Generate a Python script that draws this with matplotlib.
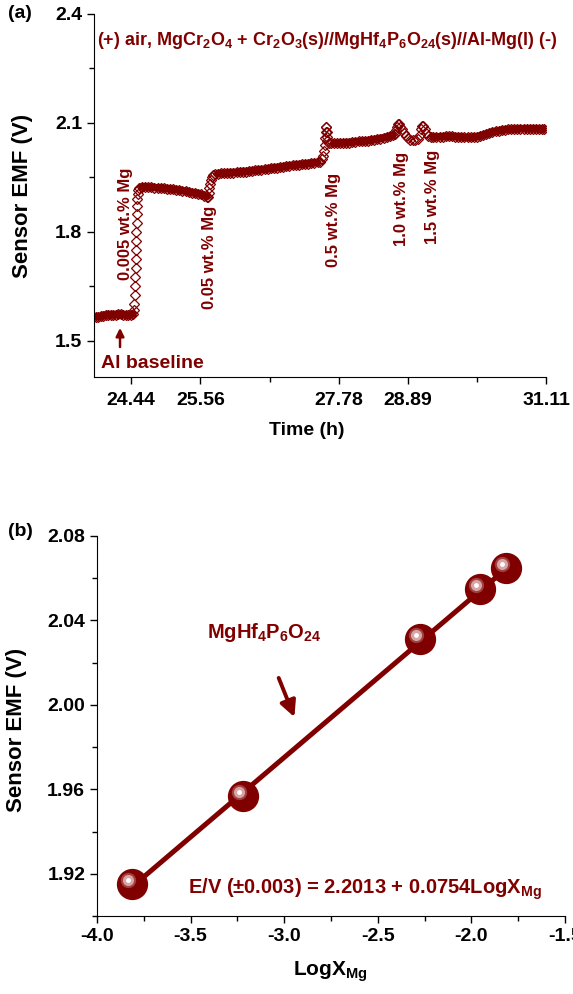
import numpy as np
import matplotlib
matplotlib.use("Agg")
import matplotlib.pyplot as plt
from matplotlib.ticker import FixedLocator, MultipleLocator, FormatStrFormatter
from matplotlib.transforms import offset_copy

plt.rcParams['font.family'] = ['Liberation Sans', 'DejaVu Sans']
plt.rcParams['font.weight'] = 'bold'
plt.rcParams['axes.labelweight'] = 'bold'
plt.rcParams['axes.unicode_minus'] = False
plt.rcParams['mathtext.fontset'] = 'custom'
plt.rcParams['mathtext.rm'] = 'Liberation Sans:bold'
plt.rcParams['mathtext.it'] = 'Liberation Sans:bold'
plt.rcParams['mathtext.bf'] = 'Liberation Sans:bold'
plt.rcParams['mathtext.default'] = 'rm'

RED = '#800000'

# (a) sensor EMF vs time, one segment per Mg addition
t_base = [23.88, 23.92, 23.96, 24.00, 24.04, 24.08, 24.12, 24.16, 24.20, 24.24,
          24.28, 24.32, 24.36, 24.40, 24.44, 24.47]
e_base = [1.566, 1.566, 1.567, 1.569, 1.571, 1.572, 1.572, 1.571, 1.572, 1.573,
          1.573, 1.572, 1.571, 1.570, 1.571, 1.574]

t_step1 = [24.49, 24.50, 24.505, 24.51, 24.515, 24.52, 24.523, 24.526, 24.529,
           24.532, 24.535, 24.538, 24.542, 24.546, 24.552, 24.56, 24.58]
e_step1 = [1.585, 1.60, 1.625, 1.65, 1.675, 1.70, 1.725, 1.75, 1.775,
           1.80, 1.825, 1.85, 1.87, 1.89, 1.905, 1.915, 1.921]

t_flat1 = [24.62, 24.67, 24.72, 24.77, 24.82, 24.87, 24.92, 24.97, 25.02, 25.07,
           25.12, 25.17, 25.22, 25.27, 25.32, 25.37, 25.42, 25.47, 25.52, 25.57,
           25.62, 25.66]
e_flat1 = [1.924, 1.924, 1.923, 1.923, 1.922, 1.921, 1.921, 1.920, 1.919, 1.918,
           1.917, 1.916, 1.915, 1.913, 1.912, 1.910, 1.908, 1.907, 1.905, 1.903,
           1.900, 1.897]

t_step2 = [25.68, 25.695, 25.705, 25.715, 25.725, 25.74, 25.76, 25.79]
e_step2 = [1.897, 1.908, 1.920, 1.932, 1.943, 1.952, 1.957, 1.960]

t_flat2 = [25.84, 25.89, 25.94, 25.99, 26.04, 26.09, 26.14, 26.19, 26.24, 26.29,
           26.34, 26.39, 26.44, 26.49, 26.54, 26.59, 26.64, 26.69, 26.74, 26.79,
           26.84, 26.89, 26.94, 26.99, 27.04, 27.09, 27.14, 27.19, 27.24, 27.29,
           27.34, 27.39, 27.44]
e_flat2 = [1.960, 1.961, 1.961, 1.962, 1.963, 1.963, 1.964, 1.965, 1.966, 1.966,
           1.967, 1.968, 1.969, 1.970, 1.971, 1.972, 1.973, 1.975, 1.976, 1.977,
           1.978, 1.979, 1.981, 1.982, 1.983, 1.984, 1.985, 1.986, 1.987, 1.988,
           1.989, 1.990, 1.991]

t_step3 = [27.48, 27.51, 27.535, 27.55, 27.56, 27.565, 27.57, 27.575, 27.58,
           27.585, 27.59, 27.60, 27.62, 27.65]
e_step3 = [1.993, 2.000, 2.010, 2.022, 2.040, 2.058, 2.075, 2.090, 2.088,
           2.075, 2.062, 2.050, 2.045, 2.044]

t_flat3 = [27.70, 27.75, 27.80, 27.85, 27.90, 27.95, 28.00, 28.05, 28.10, 28.15,
           28.20, 28.25, 28.30, 28.35, 28.40, 28.45, 28.50, 28.55, 28.60, 28.65]
e_flat3 = [2.044, 2.044, 2.045, 2.045, 2.046, 2.046, 2.047, 2.048, 2.049, 2.049,
           2.050, 2.051, 2.053, 2.054, 2.055, 2.057, 2.059, 2.061, 2.063, 2.066]

t_step45 = [28.68, 28.70, 28.72, 28.735, 28.75, 28.77, 28.80, 28.83, 28.86, 28.89,
            28.93, 28.97, 29.01, 29.05, 29.08, 29.10, 29.12, 29.14, 29.16, 29.19,
            29.22, 29.26]
e_step45 = [2.070, 2.080, 2.090, 2.097, 2.096, 2.090, 2.082, 2.073, 2.065, 2.058,
            2.053, 2.052, 2.052, 2.055, 2.068, 2.082, 2.092, 2.091, 2.082, 2.072,
            2.065, 2.061]

t_flat4 = [29.30, 29.35, 29.40, 29.45, 29.50, 29.55, 29.60, 29.65, 29.70, 29.75,
           29.80, 29.85, 29.90, 29.95, 30.00, 30.05, 30.10, 30.15, 30.20, 30.25,
           30.30, 30.35, 30.40, 30.45, 30.50, 30.55, 30.60, 30.65, 30.70, 30.75,
           30.80, 30.85, 30.90, 30.95, 31.00, 31.05, 31.08]
e_flat4 = [2.061, 2.061, 2.062, 2.062, 2.063, 2.063, 2.063, 2.062, 2.062, 2.061,
           2.060, 2.060, 2.060, 2.061, 2.062, 2.064, 2.066, 2.069, 2.072, 2.075,
           2.077, 2.078, 2.080, 2.081, 2.082, 2.082, 2.083, 2.083, 2.084, 2.084,
           2.084, 2.084, 2.084, 2.084, 2.083, 2.083, 2.083]

flat_runs = [(t_base, e_base), (t_flat1, e_flat1), (t_flat2, e_flat2),
             (t_flat3, e_flat3), (t_flat4, e_flat4)]

time_h = np.concatenate([t_base, t_step1, t_flat1, t_step2, t_flat2,
                         t_step3, t_flat3, t_step45, t_flat4])
emf = np.concatenate([e_base, e_step1, e_flat1, e_step2, e_flat2,
                      e_step3, e_flat3, e_step45, e_flat4])

time_ticks = [24.44, 25.56, 27.78, 28.89, 31.11]
time_minor = [26.67, 30.00]

# labels for each Mg addition: (text, time, emf)
additions = [
    ("0.005 wt.% Mg", 24.349, 1.822),
    ("0.05 wt.% Mg", 25.711, 1.729),
    ("0.5 wt.% Mg", 27.692, 1.833),
    ("1.0 wt.% Mg", 28.782, 1.891),
    ("1.5 wt.% Mg", 29.279, 1.896),
]

# (b) calibration: EMF vs log of Mg mole fraction
log_x = [-3.814, -3.218, -2.277, -1.952, -1.814]
emf_b = [1.915, 1.957, 2.031, 2.055, 2.065]
fit_a, fit_b = 2.2013, 0.0754

fig = plt.figure(figsize=(5.73, 9.94), dpi=100)
ax1 = fig.add_axes([94/573, 1-377/994, (546-94)/573, (377-14)/994])
ax2 = fig.add_axes([97/573, 1-916/994, (565-97)/573, (916-536)/994])

for ax in (ax1, ax2):
    ax.spines['top'].set_visible(False)
    ax.spines['right'].set_visible(False)
    ax.tick_params(which='both', direction='out', width=1, labelsize=14)
    ax.tick_params(which='major', length=5)
    ax.tick_params(which='minor', length=3.5)

# ---- panel (a)
for tt, ee in flat_runs:
    ax1.plot(tt, ee, color=RED, lw=5.5, solid_capstyle='round')
ax1.plot(time_h, emf, ls='none', marker='D', ms=5.4, mfc='none', mec=RED, mew=0.9)
ax1.set_xlim(23.85, 31.11)
ax1.set_ylim(1.4, 2.4)
ax1.xaxis.set_major_locator(FixedLocator(time_ticks))
ax1.xaxis.set_minor_locator(FixedLocator(time_minor))
ax1.xaxis.set_major_formatter(FormatStrFormatter('%.2f'))
ax1.yaxis.set_major_locator(MultipleLocator(0.3))
ax1.yaxis.set_minor_locator(MultipleLocator(0.15))
ax1.yaxis.set_major_formatter(FormatStrFormatter('%.1f'))
ax1.tick_params(axis='x', which='major', pad=6)
ax1.set_ylim(1.4, 2.4)
ax1.set_xlabel('Time (h)', fontsize=14)
ax1.set_ylabel('Sensor EMF (V)', fontsize=16)
ax1.xaxis.set_label_coords(0.47, -0.125)
ax1.yaxis.set_label_coords(-0.135, 0.5)

for txt, tx, ey in additions:
    ax1.text(tx, ey, txt, rotation=90, ha='center', va='center',
             fontsize=12, color=RED)

ax1.text(0.516, 0.928,
         '(+) air, MgCr$_2$O$_4$ + Cr$_2$O$_3$(s)//MgHf$_4$P$_6$O$_{24}$(s)//Al-Mg(l) (-)',
         transform=ax1.transAxes, ha='center', va='center', fontsize=13, color=RED)
ax1.text(24.78, 1.436, 'Al baseline', ha='center', va='center', fontsize=14, color=RED)
ax1.annotate('', xy=(24.268, 1.543), xytext=(24.268, 1.475),
             arrowprops=dict(arrowstyle='-|>', color=RED, lw=1.8, mutation_scale=12))

# ---- panel (b)
x_line = np.array([min(log_x), max(log_x)])
ax2.plot(x_line, fit_a + fit_b * x_line, color=RED, lw=3.6, solid_capstyle='butt', zorder=2)
ax2.plot(log_x, emf_b, ls='none', marker='o', ms=21.5, color=RED, zorder=3)
# glossy highlight on the spheres
for dx, dy, ms, col in [(-4, 4, 11, '#a04040'), (-4, 4, 8, '#d8a4a4'), (-4, 4, 3.5, 'white')]:
    tr = offset_copy(ax2.transData, fig=fig, x=dx, y=dy, units='dots')
    ax2.plot(log_x, emf_b, ls='none', marker='o', ms=ms, color=col, mec='none',
             transform=tr, zorder=4)

ax2.set_xlim(-4.0, -1.5)
ax2.set_ylim(1.90, 2.08)
ax2.xaxis.set_major_locator(MultipleLocator(0.5))
ax2.xaxis.set_minor_locator(MultipleLocator(0.25))
ax2.xaxis.set_major_formatter(FormatStrFormatter('%.1f'))
ax2.yaxis.set_major_locator(FixedLocator([1.92, 1.96, 2.00, 2.04, 2.08]))
ax2.yaxis.set_minor_locator(FixedLocator([1.90, 1.94, 1.98, 2.02, 2.06]))
ax2.yaxis.set_major_formatter(FormatStrFormatter('%.2f'))
ax2.set_xlabel('LogX$_{\\mathrm{Mg}}$', fontsize=15)
ax2.set_ylabel('Sensor EMF (V)', fontsize=16)
ax2.xaxis.set_label_coords(0.498, -0.115)
ax2.yaxis.set_label_coords(-0.15, 0.49)

ax2.text(-3.516, 1.9105, 'E/V (\u00b10.003) = 2.2013 + 0.0754LogX$_{\\mathrm{Mg}}$',
         ha='left', va='baseline', fontsize=14.5, color=RED)
ax2.text(-3.106, 2.0345, 'MgHf$_4$P$_6$O$_{24}$', ha='center', va='center',
         fontsize=14.5, color=RED)
ax2.annotate('', xy=(-2.94, 1.993), xytext=(-3.035, 2.014),
             arrowprops=dict(arrowstyle='-|>', color=RED, lw=2.8, mutation_scale=24))

fig.text(8/573, 1-14/994, '(a)', ha='left', va='center', fontsize=14)
fig.text(8/573, 1-532/994, '(b)', ha='left', va='center', fontsize=14)

fig.savefig('out.png', dpi=100)
